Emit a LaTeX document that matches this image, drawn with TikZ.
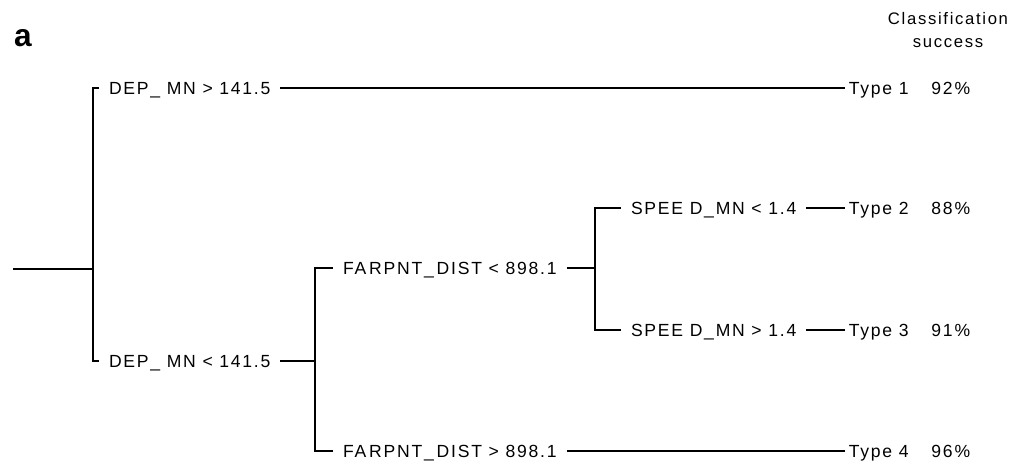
\documentclass[tikz,border=0pt]{standalone}
\usepackage{fontspec}
\setmainfont{Liberation Sans}
\newfontfamily\lblfont{Liberation Sans}[LetterSpace=10]
\tikzset{
  br/.style  = {draw=black, line width=0.9pt},
  cnd/.style = {anchor=west, font=\lblfont\fontsize{10}{12}\selectfont,
                inner xsep=5.5pt, inner ysep=0pt, text height=7pt, text depth=0pt},
  lf/.style  = {cnd, inner xsep=2pt},
}

\begin{document}
\begin{tikzpicture}[x=0.02cm, y=-0.02cm]
  \useasboundingbox (0,0) rectangle (1021,462);
  % panel letter and column header
  \node[font=\bfseries\fontsize{18}{20}\selectfont] (pan) at (23,38) {a};
  \node[font=\lblfont\fontsize{9.5}{12}\selectfont, align=center] (hdr) at (948,30)
       {Classification\\[1pt]success};
  % splits
  \coordinate (root) at (13,269);
  \coordinate (s1) at (93,269);
  \coordinate (s2) at (315,361);
  \coordinate (s3) at (595,268);
  % conditions
  \node[cnd] (c1) at (99,88)   {DEP\_ MN > 141.5};
  \node[cnd] (c2) at (99,361)  {DEP\_ MN < 141.5};
  \node[cnd] (c3) at (333,268) {FA\,RPNT\_\,DIST < 898.1};
  \node[cnd] (c4) at (333,451) {FA\,RPNT\_\,DIST > 898.1};
  \node[cnd] (c5) at (621,208) {SPEE D\_MN < 1.4};
  \node[cnd] (c6) at (621,330) {SPEE D\_MN > 1.4};
  % leaves
  \node[lf] (t1) at (845,88)  {Type 1\hspace{13pt}92\%};
  \node[lf] (t2) at (845,208) {Type 2\hspace{13pt}88\%};
  \node[lf] (t3) at (845,330) {Type 3\hspace{13pt}91\%};
  \node[lf] (t4) at (845,451) {Type 4\hspace{13pt}96\%};
  % branches
  \draw[br] (root) -- (s1);
  \draw[br] (c1.west) -| (s1) |- (c2.west);
  \draw[br] (c2.east) -- (s2);
  \draw[br] (c3.west) -| (s2) |- (c4.west);
  \draw[br] (c3.east) -- (s3);
  \draw[br] (c5.west) -| (s3) |- (c6.west);
  \foreach \a/\b in {c1/t1, c5/t2, c6/t3, c4/t4}
    \draw[br] (\a.east) -- (\b.west);
\end{tikzpicture}
\end{document}
